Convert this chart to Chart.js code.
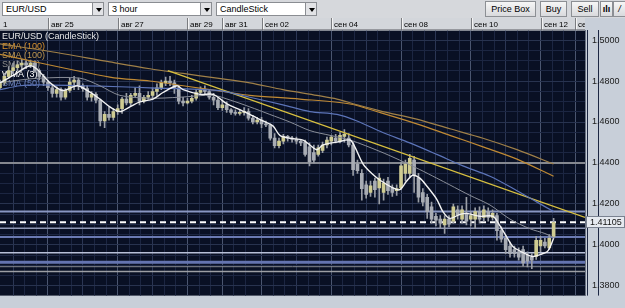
<!DOCTYPE html>
<html lang="ru">
<head>
<meta charset="UTF-8" />
<title>EUR/USD · 3 hour</title>
<script src="https://cdn.jsdelivr.net/npm/chart.js@4"></script>
<style>
  body { margin:0; width:625px; height:308px; overflow:hidden; background:#c8cfd9; font-family:"Liberation Sans", Arial, sans-serif; }
  #bar { position:relative; height:18px; background:#d6d8dc; }
  .dd { position:absolute; top:2px; height:14px; box-sizing:border-box; background:#fff; border:1px solid #8a8d92; font-size:9px; line-height:12px; padding-left:3px; color:#000; }
  .dd i { position:absolute; right:-1px; top:-1px; width:12px; height:14px; box-sizing:border-box; border:1px solid #8a8d92; background:#e2e3e6; }
  .dd i:after { content:""; position:absolute; left:3px; top:5px; border-left:3px solid transparent; border-right:3px solid transparent; border-top:4px solid #000; }
  .bt { position:absolute; top:1px; height:16px; box-sizing:border-box; border:1px solid #8c8f94; background:linear-gradient(#f6f6f6,#d9dadd); font-size:9px; line-height:14px; text-align:center; color:#000; }
  #wrap { position:relative; }
</style>
</head>
<body>
  <div id="bar">
    <div class="dd" style="left:2px;width:102px">EUR/USD<i></i></div>
    <div class="dd" style="left:108px;width:104px">3 hour<i></i></div>
    <div class="dd" style="left:216px;width:101px">CandleStick<i></i></div>
    <div class="bt" style="left:485px;width:51px">Price Box</div>
    <div class="bt" style="left:540px;width:27px">Buy</div>
    <div class="bt" style="left:571px;width:28px">Sell</div>
    <div class="bt" style="left:600px;width:13px;font-weight:bold">ılı</div>
    <div class="bt" style="left:613px;width:13px;font-style:italic">/</div>
  </div>
  <div id="wrap"><canvas id="chart" width="625" height="290"></canvas></div>

<script>
// ---- data ----
const opens = [
  1.4767, 1.4791, 1.4823, 1.4851, 1.4865, 1.4879, 1.4888, 1.4879, 1.4888, 1.4851,
  1.4823, 1.4795, 1.4767, 1.4740, 1.4758, 1.4721, 1.4754, 1.4795, 1.4805, 1.4777,
  1.4763, 1.4721, 1.4735, 1.4707, 1.4605, 1.4637, 1.4623, 1.4651, 1.4665, 1.4712,
  1.4693, 1.4730, 1.4740, 1.4702, 1.4721, 1.4730, 1.4749, 1.4767, 1.4791, 1.4800,
  1.4791, 1.4767, 1.4702, 1.4693, 1.4702, 1.4716, 1.4744, 1.4758, 1.4749, 1.4721,
  1.4707, 1.4670, 1.4684, 1.4660, 1.4647, 1.4642, 1.4647, 1.4651, 1.4619, 1.4600,
  1.4609, 1.4591, 1.4586, 1.4521, 1.4484, 1.4507, 1.4530, 1.4521, 1.4516, 1.4507,
  1.4502, 1.4479, 1.4451, 1.4442, 1.4461, 1.4488, 1.4507, 1.4521, 1.4507, 1.4530,
  1.4521, 1.4488, 1.4395, 1.4349, 1.4293, 1.4256, 1.4312, 1.4279, 1.4256, 1.4312,
  1.4279, 1.4265, 1.4279, 1.4349, 1.4349, 1.4414, 1.4326, 1.4256, 1.4233, 1.4186,
  1.4140, 1.4126, 1.4098, 1.4126, 1.4116, 1.4172, 1.4126, 1.4154, 1.4126, 1.4126,
  1.4163, 1.4135, 1.4163, 1.4135, 1.4144, 1.4070, 1.4033, 1.3995, 1.3977, 1.3967,
  1.3977, 1.3949, 1.3940, 1.3944, 1.3995, 1.4014, 1.3986, 1.4042
];
const highs = [
  1.4805, 1.4837, 1.4870, 1.4888, 1.4898, 1.4907, 1.4898, 1.4902, 1.4898, 1.4860,
  1.4833, 1.4805, 1.4777, 1.4772, 1.4767, 1.4763, 1.4814, 1.4823, 1.4814, 1.4786,
  1.4777, 1.4749, 1.4744, 1.4712, 1.4651, 1.4674, 1.4665, 1.4684, 1.4721, 1.4740,
  1.4740, 1.4767, 1.4777, 1.4730, 1.4749, 1.4767, 1.4786, 1.4805, 1.4819, 1.4823,
  1.4805, 1.4777, 1.4721, 1.4716, 1.4730, 1.4758, 1.4772, 1.4777, 1.4758, 1.4740,
  1.4721, 1.4702, 1.4698, 1.4665, 1.4660, 1.4660, 1.4670, 1.4665, 1.4633, 1.4623,
  1.4623, 1.4605, 1.4591, 1.4544, 1.4521, 1.4540, 1.4535, 1.4530, 1.4526, 1.4516,
  1.4512, 1.4498, 1.4488, 1.4488, 1.4502, 1.4526, 1.4535, 1.4540, 1.4549, 1.4563,
  1.4544, 1.4498, 1.4414, 1.4368, 1.4312, 1.4312, 1.4326, 1.4349, 1.4321, 1.4330,
  1.4293, 1.4293, 1.4405, 1.4414, 1.4442, 1.4433, 1.4349, 1.4275, 1.4247, 1.4209,
  1.4154, 1.4144, 1.4144, 1.4144, 1.4200, 1.4191, 1.4191, 1.4233, 1.4163, 1.4181,
  1.4186, 1.4191, 1.4181, 1.4172, 1.4154, 1.4088, 1.4047, 1.4014, 1.3995, 1.3986,
  1.3995, 1.3967, 1.3958, 1.4042, 1.4042, 1.4033, 1.4051, 1.4130
];
const lows = [
  1.4758, 1.4781, 1.4814, 1.4837, 1.4851, 1.4860, 1.4860, 1.4865, 1.4842, 1.4805,
  1.4777, 1.4754, 1.4721, 1.4721, 1.4707, 1.4712, 1.4744, 1.4758, 1.4758, 1.4749,
  1.4707, 1.4702, 1.4693, 1.4581, 1.4572, 1.4609, 1.4609, 1.4637, 1.4642, 1.4684,
  1.4679, 1.4721, 1.4684, 1.4693, 1.4712, 1.4712, 1.4730, 1.4758, 1.4777, 1.4777,
  1.4740, 1.4688, 1.4679, 1.4688, 1.4693, 1.4707, 1.4735, 1.4735, 1.4712, 1.4684,
  1.4660, 1.4656, 1.4647, 1.4637, 1.4633, 1.4633, 1.4633, 1.4609, 1.4591, 1.4591,
  1.4572, 1.4577, 1.4512, 1.4474, 1.4474, 1.4493, 1.4507, 1.4502, 1.4493, 1.4484,
  1.4433, 1.4386, 1.4400, 1.4433, 1.4451, 1.4474, 1.4488, 1.4498, 1.4498, 1.4502,
  1.4479, 1.4340, 1.4349, 1.4219, 1.4228, 1.4237, 1.4233, 1.4200, 1.4219, 1.4247,
  1.4237, 1.4242, 1.4270, 1.4312, 1.4330, 1.4256, 1.4209, 1.4191, 1.4130, 1.4107,
  1.4093, 1.4079, 1.4056, 1.4088, 1.4107, 1.4126, 1.4107, 1.4098, 1.4093, 1.4079,
  1.4107, 1.4116, 1.4116, 1.4121, 1.4023, 1.4014, 1.3958, 1.3940, 1.3940, 1.3926,
  1.3898, 1.3893, 1.3884, 1.3930, 1.3967, 1.3986, 1.3977, 1.4033
];
const closes = [
  1.4791, 1.4823, 1.4851, 1.4865, 1.4879, 1.4888, 1.4879, 1.4888, 1.4851, 1.4823,
  1.4795, 1.4767, 1.4740, 1.4758, 1.4721, 1.4754, 1.4795, 1.4805, 1.4777, 1.4763,
  1.4721, 1.4735, 1.4707, 1.4605, 1.4637, 1.4623, 1.4651, 1.4665, 1.4712, 1.4693,
  1.4730, 1.4740, 1.4702, 1.4721, 1.4730, 1.4749, 1.4767, 1.4791, 1.4800, 1.4791,
  1.4767, 1.4702, 1.4693, 1.4702, 1.4716, 1.4744, 1.4758, 1.4749, 1.4721, 1.4707,
  1.4670, 1.4684, 1.4660, 1.4647, 1.4642, 1.4647, 1.4651, 1.4619, 1.4600, 1.4609,
  1.4591, 1.4586, 1.4521, 1.4484, 1.4507, 1.4530, 1.4521, 1.4516, 1.4507, 1.4498,
  1.4442, 1.4405, 1.4414, 1.4474, 1.4488, 1.4512, 1.4526, 1.4507, 1.4535, 1.4540,
  1.4488, 1.4368, 1.4363, 1.4275, 1.4247, 1.4288, 1.4270, 1.4326, 1.4302, 1.4265,
  1.4256, 1.4275, 1.4386, 1.4395, 1.4423, 1.4340, 1.4233, 1.4209, 1.4163, 1.4126,
  1.4121, 1.4107, 1.4126, 1.4102, 1.4186, 1.4144, 1.4172, 1.4116, 1.4144, 1.4163,
  1.4126, 1.4172, 1.4135, 1.4154, 1.4070, 1.4028, 1.3977, 1.3958, 1.3958, 1.3940,
  1.3912, 1.3921, 1.3926, 1.4023, 1.4023, 1.3995, 1.4033, 1.41105
];

// indicators: x = candle index, value = price
const wmaIdx = [0,3.4,7.3,11.5,14.4,17.7,20,22.9,25.2,27.5,29.8,32.1,35.1,37.4,40.6,42,45.9,48.9,52.1,55,57.3,60.3,62.6,64.2,66.5,69.5,71.1,72.7,74.1,77.3,80.3,81.4,83.3,85.3,87.2,90.1,91.7,93.3,94.7,96.3,97.9,100.2,101.6,103.2,105.5,107.1,110.1,113.1,114.7,116.3,117.7,120,122.2,123.9,125.5,126.2,127];
const wma3 = [1.4791,1.4833,1.4874,1.4791,1.4754,1.4777,1.4754,1.4712,1.4674,1.4651,1.4674,1.4698,1.4712,1.4744,1.4777,1.4758,1.4735,1.4735,1.4688,1.4660,1.4637,1.4605,1.4581,1.4535,1.4521,1.4512,1.4488,1.4465,1.4488,1.4502,1.4512,1.4479,1.4395,1.4349,1.4316,1.4279,1.4270,1.4312,1.4340,1.4326,1.4288,1.4223,1.4163,1.4130,1.4149,1.4154,1.4140,1.4140,1.4093,1.4037,1.3991,1.3963,1.3944,1.3953,1.3967,1.3991,1.4033];
const sma20Idx = [0,4.6,9.2,18.3,22.9,27.5,34.4,41.3,48.9,52.8,57.3,61.9,66.5,71.1,75.7,80.3,87.2,91.7,96.3,100.2,103.2,107.8,112.4,117,121.6,125,127];
const sma20 = [1.4791,1.4805,1.4814,1.4814,1.4777,1.4730,1.4716,1.4721,1.4730,1.4707,1.4674,1.4637,1.4600,1.4558,1.4535,1.4512,1.4456,1.4414,1.4368,1.4326,1.4293,1.4242,1.4195,1.4126,1.4079,1.4056,1.4037];
const sma50Idx = [0,4.6,9.2,18.3,27.5,34.4,49.8,57.3,64.9,71.1,77.3,81.9,87.8,94,100.2,106.2,112.4,118.6,123.2,127];
const sma50 = [1.4758,1.4777,1.4781,1.4777,1.4772,1.4767,1.4754,1.4721,1.4684,1.4651,1.4637,1.4605,1.4549,1.4498,1.4442,1.4386,1.4335,1.4265,1.4209,1.4163];
const sma100Idx = [0,11.5,25.2,34.4,42,49.8,57.3,64.9,72.7,77.3,81.9,87.8,95.6,103.2,110.8,118.6,127];
const sma100 = [1.4981,1.4944,1.4893,1.4860,1.4837,1.4814,1.4791,1.4758,1.4730,1.4712,1.4684,1.4651,1.4614,1.4567,1.4521,1.4465,1.4395];
const ema100Idx = [0,25.2,34.4,42,52.8,57.3,68.8,80.3,87.8,95.6,103.2,110.8,118.6,127];
const ema100 = [1.4930,1.4819,1.4800,1.4777,1.4744,1.4730,1.4712,1.4688,1.4642,1.4591,1.4535,1.4479,1.4419,1.4335];
const trendIdx = [38.5, 134.2];
const trend = [1.4851, 1.4135];

// horizontal levels drawn on the chart
const levels      = [1.4400, 1.4163, 1.4082, 1.4039, 1.3962, 1.3916, 1.3894, 1.3870];
const levelColors = ['#858890', '#8896c2', '#8f98b6', '#6a7ab2', '#b8c0d8', '#6474b0', '#878990', '#9c9ea4'];
const levelWidths = [2, 2, 1.5, 2, 1.5, 3, 1, 1.5];
const currentPrice = 1.41105;

// axes
const dateTicks  = [0, 11, 27, 43, 51, 60, 76, 92, 108, 124, 132];
const dateLabels = ['1', 'авг 25', 'авг 27', 'авг 29', 'авг 31', 'сен 02', 'сен 04', 'сен 08', 'сен 10', 'сен 12', 'се'];
const dayTicks   = [3, 11, 19, 27, 35, 43, 51, 60, 68, 76, 84, 92, 100, 108, 116, 124, 132];
const yTickValues = [1.50, 1.48, 1.46, 1.44, 1.42, 1.40, 1.38];
const yTickLabels = ['1.5000', '1.4800', '1.4600', '1.4400', '1.4200', '1.4000', '1.3800'];

const X_MAX = 134.2, Y_MIN = 1.3753, Y_MAX = 1.5047;
const FONT = '"Liberation Sans", Arial, sans-serif';

// grid positions
const xGrid = [];
dayTicks.forEach(d => { xGrid.push(d, d + 8 / 3, d + 16 / 3); });
const yGrid = [];
for (let k = 0; k <= 24; k++) yGrid.push(+(1.38 + k * 0.005).toFixed(3));

const idx = closes.map((_, i) => i);
const near = (arr, v) => arr.some(t => Math.abs(t - v) < 1e-6);

function lineSet(xs, ys, color, width, order, extra) {
  return Object.assign({
    type: 'line',
    data: xs.map((x, k) => ({ x, y: ys[k] })),
    borderColor: color, borderWidth: width,
    pointRadius: 0, tension: 0.3, fill: false, order
  }, extra || {});
}

const datasets = [];
levels.forEach((v, k) => datasets.push(lineSet([0, X_MAX], [v, v], levelColors[k], levelWidths[k], 20, { tension: 0 })));
datasets.push(lineSet([0, X_MAX], [currentPrice, currentPrice], '#ffffff', 2, 19, { tension: 0, borderDash: [6, 4] }));
datasets.push({
  type: 'bar', data: idx.map(i => ({ x: i, y: [lows[i], highs[i]] })),
  backgroundColor: '#9a9ea6', barThickness: 1, grouped: false, order: 12
});
datasets.push({
  type: 'bar', data: idx.map(i => ({ x: i, y: [opens[i], closes[i]] })),
  backgroundColor: idx.map(i => closes[i] >= opens[i] ? '#cfcc92' : '#a8acb4'),
  barThickness: 3, minBarLength: 1, grouped: false, order: 11
});
datasets.push(lineSet(sma100Idx, sma100, '#a08048', 1.2, 6));
datasets.push(lineSet(ema100Idx, ema100, '#c08a34', 1.2, 5));
datasets.push(lineSet(trendIdx, trend, '#d8c040', 1.2, 4, { tension: 0 }));
datasets.push(lineSet(sma50Idx, sma50, '#5c74b8', 1.2, 3));
datasets.push(lineSet(sma20Idx, sma20, '#8a8e98', 1, 2));
datasets.push(lineSet(wmaIdx, wma3, '#f2f2f2', 1.4, 1));

const legendItems = [
  ['EUR/USD (CandleStick)', '#e6e6e6'],
  ['EMA (100)', '#d8922e'],
  ['SMA (100)', '#c09850'],
  ['SMA (20)', '#8e8e8e'],
  ['WMA (3)', '#ffffff'],
  ['SMA (50)', '#6f86c0']
];

const chrome = {
  id: 'chrome',
  beforeDraw(chart) {
    const { ctx, chartArea: a } = chart;
    ctx.save();
    ctx.fillStyle = '#c8cfd9';
    ctx.fillRect(0, 0, chart.width, chart.height);
    ctx.fillStyle = '#091024';
    ctx.fillRect(a.left, a.top, a.right - a.left, a.bottom - a.top);
    ctx.restore();
  },
  beforeDatasetsDraw(chart) {
    const { ctx, chartArea: a } = chart;
    ctx.save();
    ctx.font = '9px ' + FONT;
    ctx.textBaseline = 'middle';
    legendItems.forEach(([t, c], k) => {
      ctx.fillStyle = c;
      ctx.fillText(t, a.left + 2, a.top + 6.5 + k * 9.3);
    });
    ctx.restore();
  },
  afterDraw(chart) {
    const { ctx, chartArea: a, scales: { x, y } } = chart;
    ctx.save();
    // date header
    const h = a.top;
    ctx.fillStyle = '#d3d6db';
    ctx.fillRect(0, 0, a.right, h);
    ctx.beginPath(); ctx.rect(0, 0, a.right, h); ctx.clip();
    ctx.font = '8px ' + FONT;
    ctx.textBaseline = 'middle';
    dateTicks.forEach((v, k) => {
      const px = Math.round(x.getPixelForValue(v));
      if (px > 0) {
        ctx.fillStyle = '#7a7c80'; ctx.fillRect(px, 0, 1, h);
        ctx.fillStyle = '#f4f4f4'; ctx.fillRect(px + 1, 0, 1, h);
      }
      ctx.fillStyle = '#000';
      ctx.fillText(dateLabels[k], px + 3, h / 2 + 0.5);
    });
    ctx.fillStyle = '#6e7076';
    ctx.fillRect(0, h - 1, a.right, 1);
    ctx.restore();
    // current price box
    ctx.save();
    const py = Math.round(y.getPixelForValue(currentPrice));
    ctx.fillStyle = '#e6eaf0';
    ctx.fillRect(a.right + 1, py - 6, chart.width - a.right - 1, 12);
    ctx.strokeStyle = '#7a8290';
    ctx.strokeRect(a.right + 1.5, py - 5.5, chart.width - a.right - 2, 11);
    ctx.fillStyle = '#111';
    ctx.font = '9px ' + FONT;
    ctx.textBaseline = 'middle';
    ctx.fillText('1.41105', a.right + 5, py + 0.5);
    ctx.restore();
  }
};

new Chart(document.getElementById('chart'), {
  type: 'bar',
  data: { datasets },
  plugins: [chrome],
  options: {
    responsive: false,
    animation: false,
    devicePixelRatio: 1,
    layout: { padding: 0 },
    plugins: { legend: { display: false }, tooltip: { enabled: false } },
    scales: {
      x: {
        type: 'linear', position: 'top', min: 0, max: X_MAX, offset: false,
        afterBuildTicks: s => { s.ticks = xGrid.map(value => ({ value })); },
        afterFit: s => { s.height = 12; },
        ticks: { display: false },
        border: { display: false },
        grid: {
          drawTicks: false, offset: false, lineWidth: 1,
          color: c => near(dateTicks, c.tick.value) ? '#4a556f' : near(dayTicks, c.tick.value) ? '#2b3654' : '#1c2642'
        }
      },
      y: {
        type: 'linear', position: 'right', min: Y_MIN, max: Y_MAX,
        afterBuildTicks: s => { s.ticks = yGrid.map(value => ({ value })); },
        afterFit: s => { s.width = 40; },
        border: { display: true, color: '#6c7484' },
        grid: {
          drawTicks: false, lineWidth: 1,
          color: c => near(yTickValues, c.tick.value) ? '#28334f' : '#1c2642'
        },
        ticks: {
          autoSkip: false, padding: 7, color: '#1a1a1a',
          font: { family: FONT, size: 9 },
          callback: v => { const k = yTickValues.findIndex(t => Math.abs(t - v) < 1e-6); return k >= 0 ? yTickLabels[k] : ''; }
        }
      }
    }
  }
});
</script>
</body>
</html>
